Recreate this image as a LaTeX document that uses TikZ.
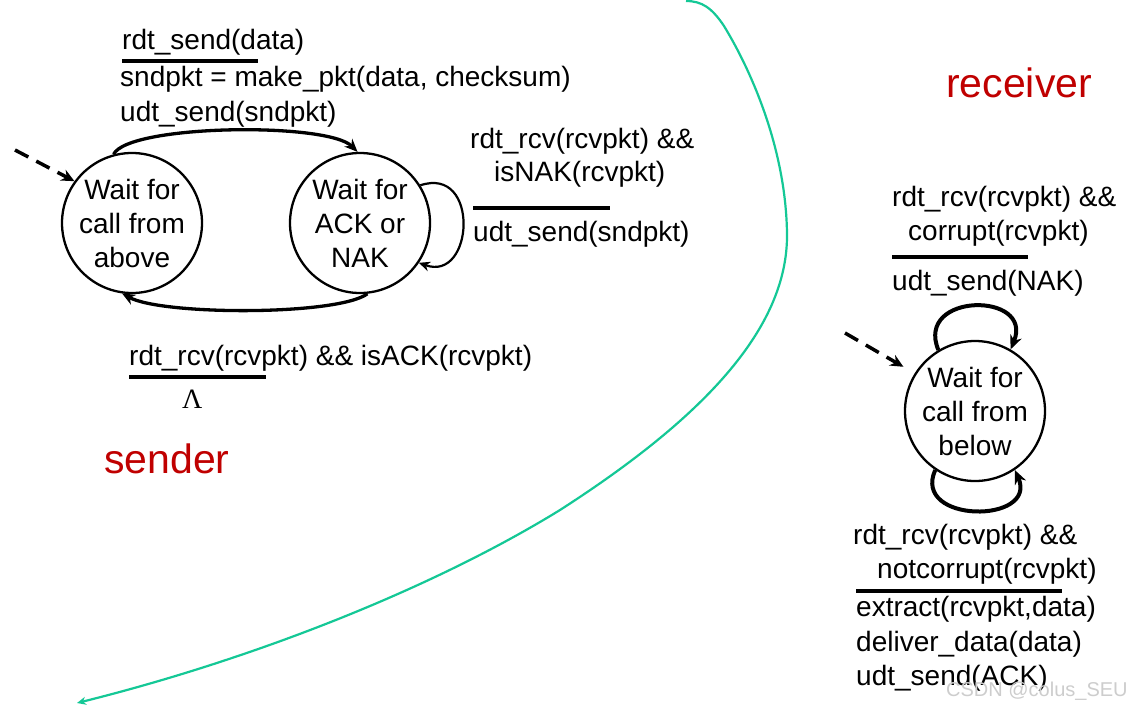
\documentclass[tikz,border=0pt]{standalone}
\usepackage{fontspec}
\setmainfont{Liberation Sans}
\newfontfamily\serifLam{Liberation Serif}
\usetikzlibrary{arrows.meta}
\definecolor{redtxt}{RGB}{192,0,0}
\definecolor{tealline}{RGB}{20,200,150}
\definecolor{wmark}{RGB}{205,205,205}
\begin{document}
\begin{tikzpicture}[x=1pt,y=-1pt,
  state/.style={circle, draw, line width=2.3pt, minimum size=140pt, inner sep=0pt, align=center, font=\fontsize{28}{34}\selectfont},
  lbl/.style={anchor=base west, inner sep=0pt, font=\fontsize{28}{34}\selectfont},
  big/.style={anchor=base west, inner sep=0pt, text=redtxt, font=\fontsize{41}{48}\selectfont},
  bar/.style={line width=3.6pt},
  trans/.style={line width=3.3pt, -{Stealth[length=13pt,width=11pt]}},
  thinloop/.style={line width=2.2pt, -{Stealth[length=11pt,width=10pt]}},
  rloop/.style={line width=4pt, -{Stealth[length=14pt,width=12pt]}},
  init/.style={dash pattern=on 15pt off 9pt, line width=3.5pt, -{Stealth[length=13pt,width=12pt]}},
  divider/.style={line width=2.2pt, draw=tealline, -{Stealth[length=9pt,width=8pt]}}
]
\useasboundingbox (0,0) rectangle (1134,707);
\fill[white] (0,0) rectangle (1134,707);

% ---------- sender ----------
\node[state] (L) at (132,223) {Wait for\\call from\\above};
\node[state] (R) at (360,223) {Wait for\\ACK or\\NAK};

\coordinate (Lstart) at (15,150);
\draw[init] (Lstart) -- (L.144);

\draw[trans] (L.105) .. controls +(15,-30) and +(-30,-30) .. (R.92);
\draw[trans] (R.-84) .. controls +(-30,22) and +(40,22) .. (L.-98);
\draw[thinloop] (R.32) .. controls +(60,-20) and +(55,20) .. (R.-34);

\node[lbl] (s1) at (122,49) {rdt\_send(data)};
\draw[bar] (122,61) -- (258,61);
\node[lbl] (s2) at (120,86) {sndpkt = make\_pkt(data, checksum)};
\node[lbl] (s3) at (120,121) {udt\_send(sndpkt)};

\node[lbl] (n1) at (470,148) {rdt\_rcv(rcvpkt) \&\&};
\node[lbl] (n2) at (494,181) {isNAK(rcvpkt)};
\draw[bar] (473,208) -- (610,208);
\node[lbl] (n3) at (473,241) {udt\_send(sndpkt)};

\node[lbl] (a1) at (129,365) {rdt\_rcv(rcvpkt) \&\& isACK(rcvpkt)};
\draw[bar] (129,377) -- (266,377);
\node[lbl] (a2) at (182,408) {\serifLam Λ};

\node[big] (snd) at (104,473) {sender};

% ---------- divider ----------
\draw[divider] (686,1) .. controls (702,1) and (712,8) .. (724,26)
  .. controls (752,72) and (786,150) .. (787,234)
  .. controls (788,330) and (700,420) .. (560,510)
  .. controls (430,590) and (250,660) .. (77,703);

% ---------- receiver ----------
\node[big] (rcv) at (946,97) {receiver};

\node[state] (C) at (975,411) {Wait for\\call from\\below};
\coordinate (Cstart) at (845,333);
\draw[init, shorten >=13pt] (Cstart) -- (C.148);

\draw[rloop] (C.121) .. controls +(-24,-58) and +(24,-58) .. (C.60);
\draw[rloop] (C.-124) .. controls +(-24,54) and +(24,54) .. (C.-56);

\node[lbl] (r1) at (892,206) {rdt\_rcv(rcvpkt) \&\&};
\node[lbl] (r2) at (908,240) {corrupt(rcvpkt)};
\draw[bar] (892,257) -- (1028,257);
\node[lbl] (r3) at (892,290) {udt\_send(NAK)};

\node[lbl] (b1) at (853,544) {rdt\_rcv(rcvpkt) \&\&};
\node[lbl] (b2) at (877,578) {notcorrupt(rcvpkt)};
\draw[bar] (856,591) -- (1062,591);
\node[lbl] (b3) at (856,616) {extract(rcvpkt,data)};
\node[lbl] (b4) at (856,651) {deliver\_data(data)};
\node[lbl] (b5) at (856,685) {udt\_send(ACK)};

\node[anchor=base west, inner sep=0pt, text=wmark, font=\fontsize{20}{24}\selectfont] (wm) at (946,696) {CSDN @colus\_SEU};
\end{tikzpicture}
\end{document}
